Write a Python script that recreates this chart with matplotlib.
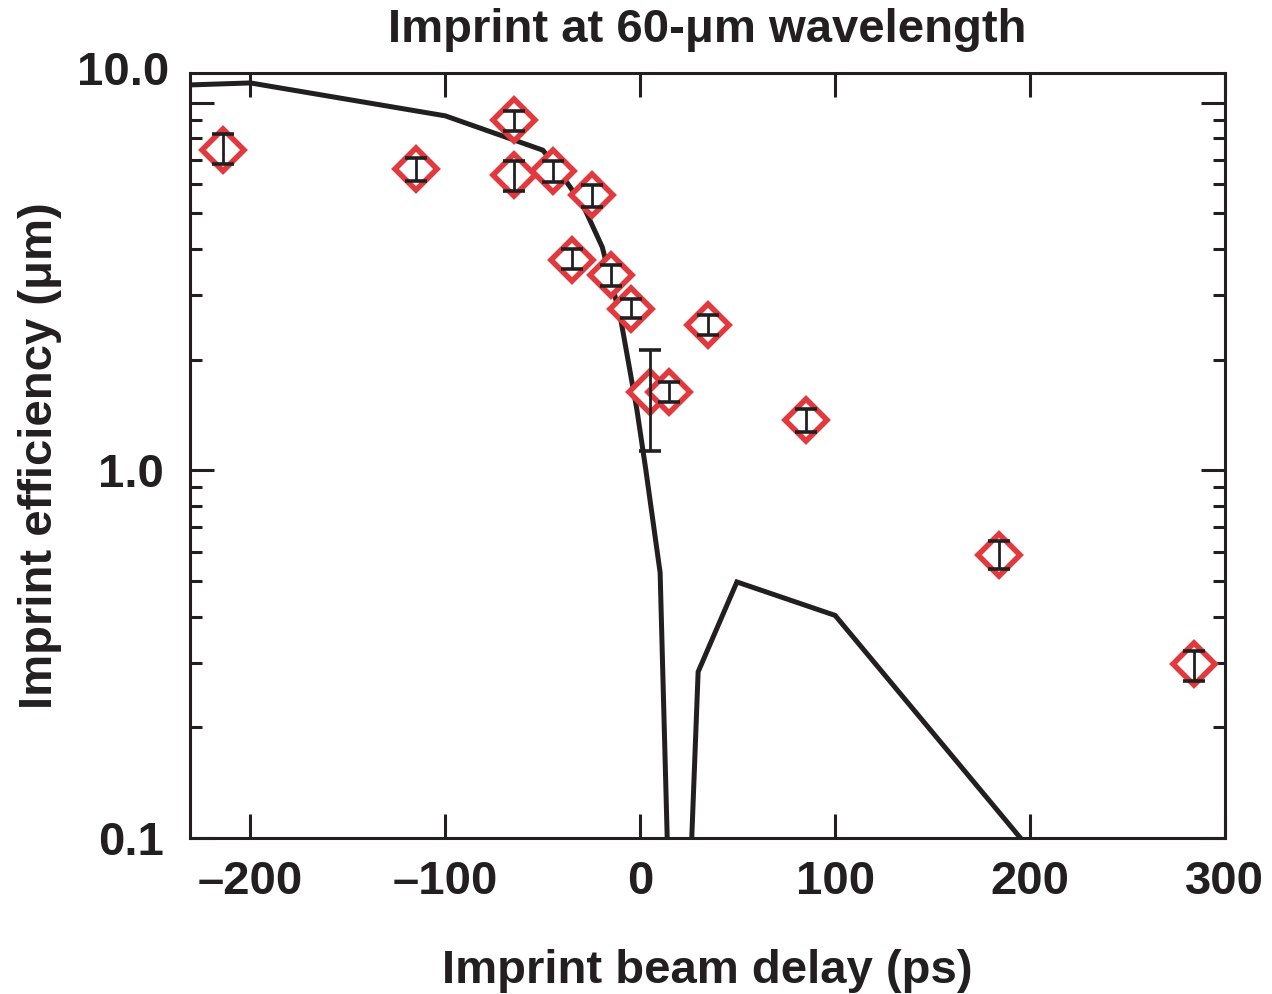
import numpy as np
import matplotlib.pyplot as plt
from matplotlib.ticker import FixedLocator, NullFormatter

plt.rcParams['font.family'] = ['Liberation Sans', 'DejaVu Sans']
plt.rcParams['font.weight'] = 'bold'

# measured points (delay in ps, efficiency in um, error bar ends)
delay = [-214, -115, -65, -65, -45, -25, -35, -15, -5, 35, 5, 15, 85, 184, 284]
eff = [7.45, 6.59, 8.96, 6.35, 6.51, 5.60, 3.74, 3.39, 2.75, 2.49, 1.63, 1.63, 1.37, 0.587, 0.297]
err_hi = [8.20, 7.06, 9.50, 6.94, 6.94, 5.99, 3.99, 3.63, 2.93, 2.65, 2.13, 1.74, 1.47, 0.641, 0.322]
err_lo = [6.80, 6.11, 8.38, 5.75, 6.09, 5.19, 3.52, 3.17, 2.59, 2.33, 1.13, 1.53, 1.27, 0.538, 0.268]

# model curve
model_x = [-231, -200, -100, -50, -45, -36, -29, -19.5, -10.2, -1.7, 2.9, 10.2, 19, 29.7, 49.6, 100, 200]
model_y = [11.18, 11.32, 9.21, 7.43, 6.89, 5.90, 5.21, 4.05, 2.61, 1.46, 1.0, 0.527, 0.0094, 0.283, 0.497, 0.403, 0.093]

red = '#E03A3E'
ink = '#231F20'

fig = plt.figure(figsize=(12.72, 9.94), dpi=100)
ax = fig.add_axes([0.1494, 0.157, 0.8136, 0.7696])

ax.plot(model_x, model_y, color=ink, lw=3.6, solid_joinstyle='miter', zorder=2)
ax.plot(delay, eff, 'D', mfc='white', mec=red, ms=21.5, mew=4, zorder=3)
yerr = [np.array(eff) - np.array(err_lo), np.array(err_hi) - np.array(eff)]
ax.errorbar(delay, eff, yerr=yerr, fmt='none', ecolor=ink, elinewidth=2.0,
            capsize=8, capthick=2.6, zorder=4)

ax.set_yscale('log')
ax.set_xlim(-231, 300)
ax.set_ylim(0.1, 12.05)

ax.set_xticks([-200, -100, 0, 100, 200, 300])
ax.set_xticklabels(['\u2013200', '\u2013100', '0', '100', '200', '300'])
ax.set_yticks([0.1, 1, 10])
ax.set_yticklabels(['0.1', '1.0', ''])
ax.yaxis.set_minor_locator(FixedLocator([0.2, 0.3, 0.4, 0.5, 0.6, 0.7, 0.8, 0.9,
                                         2, 3, 4, 5, 6, 7, 8, 9]))
ax.yaxis.set_minor_formatter(NullFormatter())
ax.text(-0.02, 1.0, '10.0', transform=ax.transAxes, ha='right', va='center',
        fontsize=34, fontweight='bold', color=ink)

ax.tick_params(axis='both', which='both', direction='in', top=True, right=True,
               colors=ink, labelsize=34, labelcolor=ink)
ax.tick_params(axis='both', which='major', length=17, width=2.2)
ax.tick_params(axis='y', which='minor', length=8.5, width=2.2)
ax.tick_params(axis='x', which='major', pad=16)
ax.tick_params(axis='y', which='major', pad=19)
for s in ax.spines.values():
    s.set_linewidth(2.2)
    s.set_color(ink)

ax.set_title('Imprint at 60-\u03bcm wavelength', fontsize=34, fontweight='bold',
             color=ink, pad=22)
ax.set_xlabel('Imprint beam delay (ps)', fontsize=34, fontweight='bold',
              color=ink, labelpad=32)
ax.set_ylabel('Imprint efficiency (\u03bcm)', fontsize=34, fontweight='bold',
              color=ink, labelpad=26)

fig.savefig('out.png', dpi=100)
